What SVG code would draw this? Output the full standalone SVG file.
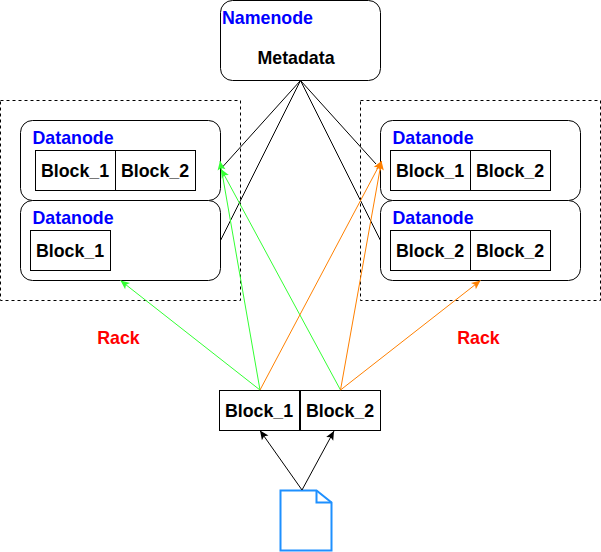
<svg xmlns="http://www.w3.org/2000/svg" width="601" height="552" viewBox="0 0 601 552">
<style>
text{font-family:"Liberation Sans",Arial,sans-serif;font-weight:bold;font-size:17.8px;fill:#000}
.t{fill:#00f}
.r{fill:#f00;text-anchor:middle}
.c{text-anchor:middle}
.n{fill:#fff;stroke:#000;stroke-width:1}
.k{fill:none;stroke:#000;stroke-width:1;stroke-dasharray:3 3}
.a{fill:none;stroke-width:1}
</style>
<defs>
<marker id="mk" markerUnits="userSpaceOnUse" markerWidth="12" markerHeight="12" refX="10" refY="5" orient="auto" viewBox="0 0 12 10"><path d="M1 1L10 5L1 9L3 5Z" fill="#000"/></marker>
<marker id="mg" markerUnits="userSpaceOnUse" markerWidth="12" markerHeight="12" refX="10" refY="5" orient="auto" viewBox="0 0 12 10"><path d="M1 1L10 5L1 9L3 5Z" fill="#33ff33"/></marker>
<marker id="mo" markerUnits="userSpaceOnUse" markerWidth="12" markerHeight="12" refX="10" refY="5" orient="auto" viewBox="0 0 12 10"><path d="M1 1L10 5L1 9L3 5Z" fill="#ff8000"/></marker>
</defs>
<rect width="601" height="552" fill="#fff"/>
<g id="rack-left"><rect class="k" x="0.5" y="100.5" width="240" height="200"/><text class="r" x="118.5" y="344">Rack</text></g>
<g id="rack-right"><rect class="k" x="360.5" y="100.5" width="240" height="200"/><text class="r" x="478.5" y="344">Rack</text></g>
<g id="namenode"><rect class="n" x="220.5" y="0.5" width="160" height="80" rx="12"/><text class="t" x="222" y="24">Namenode</text><text class="c" x="296" y="64">Metadata</text></g>
<g id="datanode-l1"><rect class="n" x="20.5" y="120.5" width="200" height="80" rx="12"/><text class="t" x="32.5" y="144">Datanode</text>
<rect class="n" x="35.500" y="150.500" width="80" height="40"/><text class="c" x="75" y="177">Block_1</text><rect class="n" x="115.500" y="150.500" width="80" height="40"/><text class="c" x="155" y="177">Block_2</text></g>
<g id="datanode-l2"><rect class="n" x="20.5" y="200.5" width="200" height="80" rx="12"/><text class="t" x="32.5" y="224">Datanode</text>
<rect class="n" x="30.500" y="230.500" width="80" height="40"/><text class="c" x="70" y="257">Block_1</text></g>
<g id="datanode-r1"><rect class="n" x="380.5" y="120.5" width="200" height="80" rx="12"/><text class="t" x="392.5" y="144">Datanode</text>
<rect class="n" x="390.500" y="150.500" width="80" height="40"/><text class="c" x="430" y="177">Block_1</text><rect class="n" x="470.500" y="150.500" width="80" height="40"/><text class="c" x="510" y="177">Block_2</text></g>
<g id="datanode-r2"><rect class="n" x="380.5" y="200.5" width="200" height="80" rx="12"/><text class="t" x="392.5" y="224">Datanode</text>
<rect class="n" x="390.500" y="230.500" width="80" height="40"/><text class="c" x="430" y="257">Block_2</text><rect class="n" x="470.500" y="230.500" width="80" height="40"/><text class="c" x="510" y="257">Block_2</text></g>
<g id="block-1"><rect class="n" x="219.500" y="390.500" width="80" height="40"/><text class="c" x="259" y="417">Block_1</text></g>
<g id="block-2"><rect class="n" x="300.500" y="390.500" width="80" height="40"/><text class="c" x="340" y="417">Block_2</text></g>
<g id="file"><path d="M280.500 490.500H316.500L331.500 502.500V550.500H280.500Z" fill="#fff" stroke="#1e90ff" stroke-width="2"/><path d="M316.500 490.500V502.500H331.500" fill="none" stroke="#1e90ff" stroke-width="2"/></g>
<g id="connectors">
<path class="a" stroke="#000" d="M300.500 80.500L222.500 167"/>
<path class="a" stroke="#000" d="M300.500 80.500L220.500 240.500"/>
<path class="a" stroke="#000" d="M300.500 80.500L380.500 240.500"/>
<path class="a" stroke="#000" d="M300.500 80.500L376 164"/>
<path class="a" stroke="#33ff33" d="M260 390L220 161" marker-end="url(#mg)"/>
<path class="a" stroke="#33ff33" d="M340.500 390L221 169" marker-end="url(#mg)"/>
<path class="a" stroke="#33ff33" d="M260 390L120.500 280.500" marker-end="url(#mg)"/>
<path class="a" stroke="#ff8000" d="M260 390L381.500 161" marker-end="url(#mo)"/>
<path class="a" stroke="#ff8000" d="M340.500 390L381.500 161" marker-end="url(#mo)"/>
<path class="a" stroke="#ff8000" d="M340.500 390L480.500 280.500" marker-end="url(#mo)"/>
<path class="a" stroke="#000" d="M302 490L260 430.500" marker-end="url(#mk)"/>
<path class="a" stroke="#000" d="M302 490L334 431" marker-end="url(#mk)"/>
</g>
</svg>
